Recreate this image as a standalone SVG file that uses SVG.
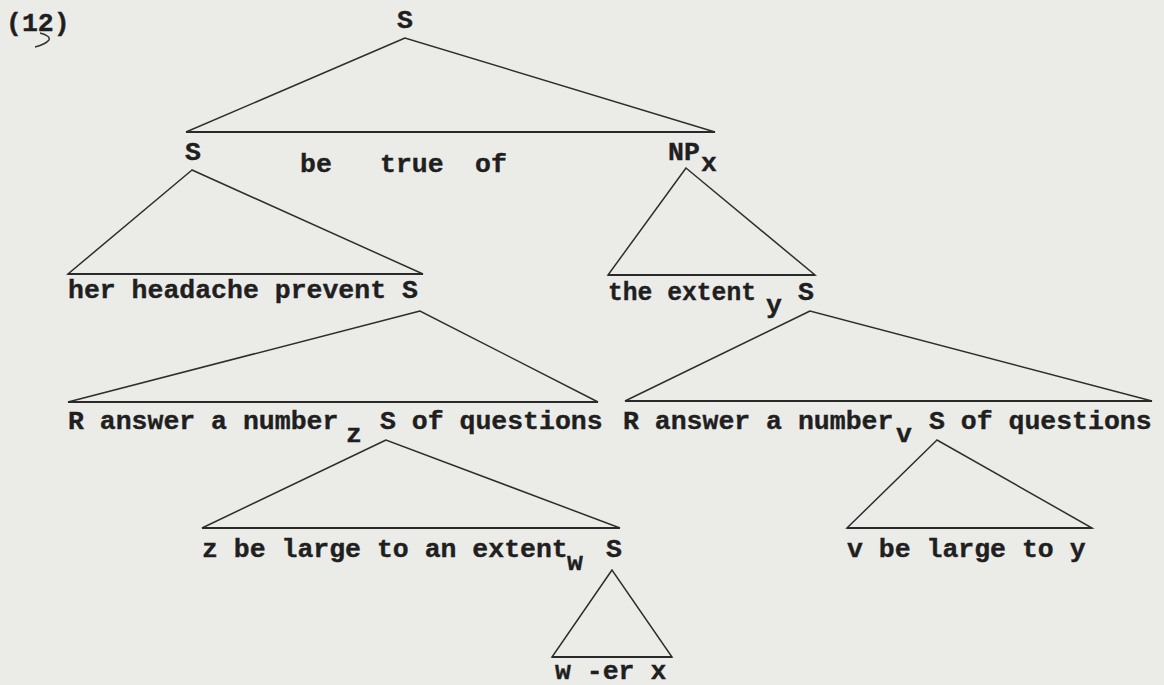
<svg xmlns="http://www.w3.org/2000/svg" width="1164" height="685" viewBox="0 0 1164 685">
<style>
.t{font-family:"Liberation Mono","DejaVu Sans Mono",monospace;font-weight:bold;font-size:26.5px;fill:#1f1f1f;stroke:#1f1f1f;stroke-width:0.4}
.tri{fill:none;stroke:#2e2e2e;stroke-width:1.5;stroke-linejoin:miter}
.base{stroke:#2a2a2a;stroke-width:2.2}
</style>
<rect width="1164" height="685" fill="#ebebe8"/>
<g id="connectors">
<polygon class="tri" points="405,38 186,132 715,132"/>
<polygon class="tri" points="192,170 68,274 423,274"/>
<polygon class="tri" points="686,168 608,275 815,275"/>
<polygon class="tri" points="420,311 68,402 598,402"/>
<polygon class="tri" points="810,311 625,401 1152,401"/>
<polygon class="tri" points="386,440 202,528 620,528"/>
<polygon class="tri" points="937,440 847,528 1092,528"/>
<polygon class="tri" points="612,570 552,657 672,657"/>
<g class="base">
<line x1="186" y1="132" x2="715" y2="132"/>
<line x1="68" y1="274" x2="423" y2="274"/>
<line x1="608" y1="275" x2="815" y2="275"/>
<line x1="68" y1="402" x2="598" y2="402"/>
<line x1="625" y1="401" x2="1152" y2="401"/>
<line x1="202" y1="528" x2="620" y2="528"/>
<line x1="847" y1="528" x2="1092" y2="528"/>
<line x1="552" y1="657" x2="672" y2="657"/>
</g>
</g>
<g id="label">
<text class="t" x="6" y="31">(12)</text>
<path d="M40,33 Q51,36 49,40 Q46,44 35,47" fill="none" stroke="#333" stroke-width="1.4"/>
</g>
<g id="n-root"><text class="t" x="405" y="28" text-anchor="middle">S</text></g>
<g id="n-s1"><text class="t" x="185" y="160">S</text></g>
<g id="n-be"><text class="t" x="300" y="172">be</text><text class="t" x="380" y="172">true</text><text class="t" x="475" y="172">of</text></g>
<g id="n-np"><text class="t" x="668" y="160">NP</text><text class="t" x="701" y="171">x</text></g>
<g id="n-her"><text class="t" x="68" y="298">her headache prevent S</text></g>
<g id="n-extent"><text class="t" x="608" y="300" textLength="148" lengthAdjust="spacingAndGlyphs">the extent</text><text class="t" x="766" y="313">y</text><text class="t" x="798" y="300">S</text></g>
<g id="n-rz"><text class="t" x="68" y="429">R answer a number</text><text class="t" x="346" y="442">z</text><text class="t" x="380" y="429">S of questions</text></g>
<g id="n-rv"><text class="t" x="623" y="429">R answer a number</text><text class="t" x="896" y="442">v</text><text class="t" x="929" y="429">S of questions</text></g>
<g id="n-z"><text class="t" x="202" y="557">z be large to an extent</text><text class="t" x="567" y="570">w</text><text class="t" x="606" y="557">S</text></g>
<g id="n-v"><text class="t" x="847" y="557">v be large to y</text></g>
<g id="n-w"><text class="t" x="555" y="679">w -er x</text></g>
</svg>
